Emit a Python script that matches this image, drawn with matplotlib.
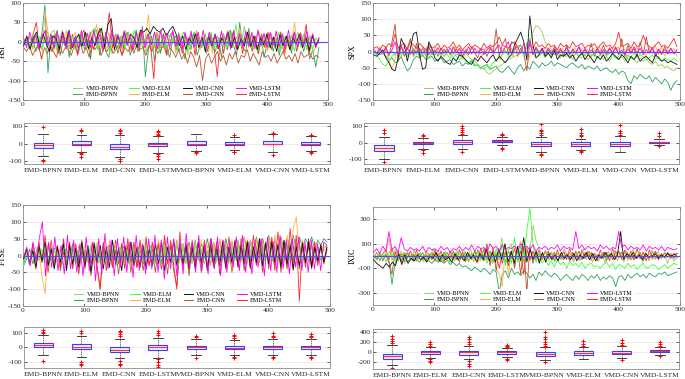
import matplotlib
matplotlib.use('Agg')
import matplotlib.pyplot as plt
import numpy as np

plt.rcParams['font.family'] = ['Liberation Serif', 'DejaVu Serif']
plt.rcParams['axes.unicode_minus'] = False

# ---------------- data ----------------
series_names = ['VMD-BPNN', 'VMD-ELM', 'VMD-CNN', 'VMD-LSTM',
                'EMD-BPNN', 'EMD-ELM', 'EMD-CNN', 'EMD-LSTM']
series_colors = ['#9acd5a', '#3cff3c', '#111111', '#ff00ff',
                 '#2ca25f', '#ffb040', '#b5542a', '#ff2a2a']
box_labels = ['EMD-BPNN', 'EMD-ELM', 'EMD-CNN', 'EMD-LSTM',
              'VMD-BPNN', 'VMD-ELM', 'VMD-CNN', 'VMD-LSTM']

# ---- HSI ----
hsi_vmd_bpnn = [5,-8,12,-15,20,-5,-18,10,25,-12,15,-20,8,30,-10,-22,12,5,-15,18,-8,22,-25,10,15,-12,28,-5,-18,20,8,-10,15,-20,30,-8,12,-15,25,-10,18,-28,10,5,-15,22,-12,8,-20,15,10,-18,25,-5,12,-22,18,-8,30,-12,5,20,-25,10,-8,15,-18,22,-10,28,-15,5,20,-12,40,-8,15,-20,10,25,-15,8,-18,22,-5,12,-25,18,-10,15,-20,8,25,-15,10,-22,18,-30,-12,5]
hsi_vmd_elm = [-8,10,-15,20,-5,15,-22,12,-10,25,30,-18,8,20,-12,15,-8,-22,18,-5,12,-15,25,35,-20,10,-5,15,-28,8,20,-12,15,-18,25,-8,30,-20,12,-10,15,22,-10,18,-25,12,-15,20,-5,15,-22,10,25,-12,-20,18,-8,12,-15,22,-10,25,-18,12,-5,15,-20,30,-15,45,-10,20,-8,12,-18,15,-25,10,-12,20,-15,8,-10,25,-20,15,-12,18,-25,10,-8,20,-15,12,-20,10,-5]
hsi_vmd_cnn = [-10,15,-20,10,25,-15,20,-5,-25,15,10,-20,25,-10,30,-15,5,20,-12,25,-18,10,-10,20,35,-15,45,60,-20,15,-10,25,-5,20,10,-15,30,25,35,20,40,30,25,35,15,30,40,20,-10,15,-20,10,-5,20,-15,12,-25,15,-10,20,-18,10,-5,25,-15,12,-20,8,-10,25,-12,15,-20,10,-8,20,-15,12,-25,18,-10,15,-20,10,-5,20,-15,12,-22,15,-10,5]
hsi_vmd_lstm = [10,-15,25,-5,18,-20,12,28,-10,20,-15,30,-8,22,-18,25,-12,15,-20,28,-10,22,-15,30,-5,20,-18,25,-12,32,-8,20,-15,28,-10,18,-22,25,-12,30,-15,20,-8,25,-18,28,-10,22,-15,30,-12,20,-20,25,-8,28,-15,22,-10,30,-18,25,-12,20,-15,28,-8,25,-20,30,-10,22,-15,28,-12,25,-18,30,-10,22,-15,25,-8,28,-12,20,-18,30,-10,25,-15,22,-12,28,-8,20,-15,10]
hsi_emd_bpnn = [-10,5,-15,10,-25,-5,20,95,-80,15,-20,25,-35,5,10,-40,20,-15,-30,15,-20,5,-45,25,30,-35,10,-25,-40,20,5,-30,15,-20,25,-35,-10,30,-25,40,-90,-20,15,-50,10,-30,20,-15,-40,5,15,-25,-5,-45,10,-20,25,-35,-10,5,-30,20,-15,-25,10,-40,15,-20,30,-10,-35,50,-15,-25,35,-20,10,-30,15,-40,-5,20,-25,10,-35,15,-20,5,-30,25,-15,10,-25,5,-45,-20,-65,-15]
hsi_emd_elm = [5,-10,15,-20,10,-15,-45,80,25,-10,20,-25,15,-5,30,-20,10,25,-15,30,-10,20,-25,15,45,-15,20,-10,25,-30,12,-20,15,-8,20,-25,15,-12,25,-15,10,70,-20,25,-10,30,-15,20,-12,25,-30,15,-10,20,-35,18,-12,25,-20,15,-8,22,-30,15,-18,25,-10,30,-15,20,-12,35,-20,25,-15,18,-10,30,-12,20,-25,15,-10,25,-18,20,-30,15,-12,50,-20,25,-10,15,-25,20,-15,10]
hsi_emd_cnn = [-15,-25,-10,-35,-20,-5,-45,-15,-30,-10,-25,-40,-5,-30,-15,-20,-35,-10,-25,-5,-30,-15,-40,-10,-20,-5,-35,-15,-25,-10,-30,-20,-5,-35,-15,-25,-10,-30,-5,-20,-15,-35,-10,-25,-5,-30,-20,-10,-35,-15,-25,-40,-20,-45,-30,-55,-25,-40,-65,-35,-100,-45,-30,-55,-40,-25,-50,-35,-60,-30,-45,-25,-55,-35,-40,-20,-50,-30,-45,-60,-25,-40,-35,-50,-30,-55,-40,-25,-45,-35,-50,-30,-55,-25,-40,-35,-30,-45,-35,-40]
hsi_emd_lstm = [-5,10,-15,20,50,-20,15,30,-10,-25,20,-30,15,-10,25,-20,10,-35,15,30,-15,25,-20,10,35,-25,15,75,-15,20,-10,-35,15,25,-20,10,-25,30,-15,20,-10,-95,25,-15,20,-30,15,25,-20,10,-30,15,-10,20,-35,25,-15,10,-25,20,-15,-90,15,-30,20,-10,25,-20,15,-30,10,20,-25,15,-30,20,-15,25,-20,10,-15,25,-30,15,-20,20,-25,15,-10,45,-30,20,-15,10]

# ---- SPX ----
spx_vmd_bpnn = [0,-5,3,-8,5,-10,2,-12,8,-5,0,-10,5,-15,2,-8,10,-12,5,-5,0,-10,-5,-15,3,-10,-18,-8,-12,-20,-5,-15,-25,-30,-40,-55,-50,-65,-70,-60,-55,-45,-40,-30,-25,-20,-15,-10,-5,0,10,30,60,80,75,60,30,-5,-15,-5,-10,-20,-5,-15,-10,-25,-5,-15,-20,-10,-25,-15,-5,-20,-10,-25,-15,-30,-10,-20,-25,-15,-30,-10,-20,-25,-35,-20,-30,-25,-35,-40,-30,-45,-40,-50,-45,-55,-60,-50]
spx_vmd_elm = [0,-10,-25,-40,-45,-30,-15,-5,5,-10,0,-15,-5,10,-10,5,-15,0,-20,-5,-10,0,-15,5,-10,-20,-5,-15,-25,-20,-30,-35,-25,-40,-45,-50,-55,-45,-50,-35,-25,-20,-10,5,-15,10,-5,5,20,-15,25,40,-10,5,-15,0,-20,-5,5,-10,0,-15,-5,5,-20,-10,0,-15,-5,-10,0,-15,-5,-20,-10,5,-15,-5,-10,-20,-15,-5,-10,-25,-15,-5,-20,-10,-15,-25,-20,-10,-25,-15,-30,-20,-25,-30,-20,-30]
spx_vmd_cnn = [-10,-15,-5,5,-20,-35,-55,-60,-20,40,20,-30,10,55,60,-10,-55,-50,30,10,-20,-30,-15,-25,-35,-40,-20,-30,-10,-15,-25,-35,-40,-20,-30,-15,-25,-35,-20,-10,-30,-15,-25,-35,-20,-10,20,40,60,30,-25,110,20,-20,-10,10,-15,-5,-20,5,-25,-10,-15,-5,-20,-10,-30,-15,-5,-25,-10,-20,-35,-15,-25,-10,-30,-20,-5,-15,-25,-10,-20,-35,-15,-25,-10,-30,-20,-15,-25,-35,-10,-20,-30,-25,-35,-30,-35,-40]
spx_vmd_lstm = [5,-5,8,-3,10,-8,5,30,-10,15,-5,12,-8,5,-3,10,-6,8,-10,5,-5,12,-8,6,-4,10,-5,8,-10,6,-5,15,-8,10,-5,8,-10,5,15,-5,10,20,-5,15,30,-10,8,15,-5,25,-10,35,-8,10,-5,8,-6,10,-5,8,-10,6,-4,12,-8,5,-5,15,-6,10,-8,5,-5,8,-10,6,-5,12,-4,10,-8,5,-10,8,-6,15,-5,10,-8,6,-5,12,-10,8,-5,6,-8,10,-6,5]
spx_emd_bpnn = [0,-5,-10,-5,-15,-25,-20,-35,-30,-15,-40,-60,-50,-25,-15,-20,-10,-25,-20,-15,-30,-25,-20,-35,-30,-25,-40,-35,-30,-45,-35,-40,-30,-45,-40,-50,-45,-40,-55,-50,-45,-60,-65,-55,-45,-60,-70,-50,-40,-60,-45,-55,-30,-40,-50,-35,-45,-40,-30,-45,-35,-40,-45,-50,-40,-35,-45,-50,-40,-55,-45,-50,-55,-45,-60,-55,-50,-60,-65,-55,-70,-60,-65,-90,-100,-75,-85,-70,-80,-85,-75,-95,-80,-90,-100,-85,-95,-120,-100,-90]
spx_emd_elm = [10,-5,15,-10,5,-30,-55,-20,15,-15,20,-10,5,-15,10,-5,15,-20,10,-8,15,-5,10,-15,5,-10,15,-5,12,-20,8,-5,15,-10,5,-15,10,-5,15,-8,20,-25,10,-5,15,-15,20,-10,5,-25,-30,10,-15,5,-10,12,-5,15,-10,8,-5,10,-15,5,-8,12,-5,10,-15,8,-20,10,-5,15,-10,5,-8,12,-5,15,-10,8,-20,10,-5,15,-10,5,-15,10,-5,20,-10,15,-15,5,-8,10,-15]
spx_emd_cnn = [5,-10,8,-5,15,-15,30,85,-30,20,-15,10,40,-10,25,-20,10,-5,15,-10,5,-15,10,-5,8,-10,15,-5,10,-15,5,-10,15,-5,-20,10,5,-15,10,-5,70,-15,20,40,-10,30,25,-15,10,-5,-60,30,-10,15,-5,10,-15,5,-10,15,-5,10,-15,20,-10,8,-5,15,-10,5,-8,25,-15,10,-5,20,-10,8,-5,15,-10,40,-15,20,-5,10,-15,30,-10,45,-5,10,-15,5,-10,15,-5,10,-8,5]
spx_emd_lstm = [10,15,5,20,12,25,15,55,10,20,25,5,30,20,10,25,15,5,20,10,15,25,5,20,10,15,30,10,20,5,15,25,10,20,15,5,25,10,20,15,25,45,20,15,10,25,30,15,20,-10,25,20,10,30,15,20,10,25,15,20,5,25,15,20,10,30,15,20,25,10,20,15,25,10,20,30,15,20,10,25,60,15,20,25,10,30,15,20,50,25,15,10,20,30,15,20,10,25,40,15]

# ---- FTSE ----
ftse_vmd_bpnn = [-20,10,-30,15,25,-15,20,-25,30,-10,15,-20,25,-30,10,-15,20,-25,30,-10,15,-20,25,-15,30,-25,10,-20,25,-10,35,-15,20,-25,15,-30,20,-10,25,-20,30,-15,10,-25,20,-30,25,-10,15,-20,30,-15,25,-25,10,-20,30,-15,20,-25,15,-30,25,-10,20,-15,35,-20,25,-10,30,-15,20,-25,35,-10,25,-20,30,-15,40,-20,25,-10,30,-15,35,-20,25,-10,30,-15,25,-20,35,-10,20,-15,30,25]
ftse_vmd_elm = [-30,5,-20,15,-25,30,-10,20,-15,25,-30,10,-20,30,-15,20,-25,15,-10,30,-20,25,-15,35,-25,10,-20,30,-15,20,-30,25,-10,20,-25,30,-15,15,-20,25,-10,30,-25,20,-15,35,-10,25,-20,15,-30,30,-15,20,-25,25,-10,30,-20,15,-15,35,-25,20,-10,30,-20,25,-15,30,-10,40,-20,25,-15,35,-10,30,-20,45,-15,30,-10,40,-20,35,-15,30,-10,45,-20,30,-15,25,-10,35,-15,20,30]
ftse_vmd_cnn = [-10,20,-25,15,-35,30,-15,40,-30,20,-40,25,-20,35,-45,30,-25,20,-35,40,-30,25,-50,35,-20,30,-40,25,-35,45,-25,20,-45,30,-20,40,-30,25,-35,30,-40,20,-30,35,-25,40,-45,25,-20,45,-30,35,-25,30,-40,25,-35,40,-20,30,-45,35,-25,20,-30,40,-35,25,-20,45,-30,30,-25,40,-35,25,-20,50,-30,35,-25,40,-20,30,-35,45,-25,30,-40,25,-30,35,-20,40,-35,25,-15,30,-20,25]
ftse_vmd_lstm = [-5,25,-30,40,-20,50,100,-60,40,-35,55,-45,30,-55,60,-40,45,-50,35,-60,55,-45,40,-75,50,-55,65,-40,45,-60,50,-35,55,-50,40,-65,60,-45,35,-55,50,-40,60,-50,45,-70,55,-40,50,-60,45,-55,65,-35,40,-50,60,-45,35,-55,50,-40,55,-60,45,-50,40,-35,55,-45,60,-50,40,-55,45,-35,50,-60,55,-45,40,-50,60,-40,45,-55,50,-35,55,-45,40,-50,45,-40,35,-45,40,30]
ftse_emd_bpnn = [-30,-10,20,-25,10,15,-20,5,30,-15,20,25,-30,10,20,-10,35,-25,15,20,-15,30,-20,10,25,-20,35,-15,25,-10,35,-20,15,30,-10,40,-20,10,35,-15,40,-10,30,-5,35,-20,40,-15,30,-5,45,-10,35,0,40,-5,45,-10,35,5,50,-5,40,0,45,-10,50,5,40,-5,45,0,55,10,45,20,55,5,50,15,60,20,45,25,55,15,50,30,60,20,55,25,50,30,55,20,45,30,50,40]
ftse_emd_elm = [-20,15,-25,30,-30,10,-60,-115,25,20,-15,30,-25,20,-10,35,-30,25,-40,15,30,-20,35,-25,40,-15,20,-30,45,-20,30,-25,35,-15,40,-20,30,-35,45,-25,40,-15,30,-20,45,-10,35,-25,40,-30,45,-15,35,-20,30,-25,40,-15,45,-10,30,-25,40,-20,50,-10,35,-25,45,-15,40,-20,55,-10,45,-15,50,-20,40,-10,55,-15,60,-25,50,-10,60,-20,80,115,-10,45,-20,35,-15,40,-20,30,15,20]
ftse_emd_cnn = [-20,10,-30,15,-40,25,-20,10,-50,20,-35,15,-45,10,-30,25,-40,20,-55,15,-35,25,-60,20,-40,-100,30,-45,20,-35,15,-55,25,-40,30,-50,20,-35,25,-45,15,-30,20,-50,25,-40,15,-55,30,-45,-90,20,-35,25,-60,30,-40,15,-50,20,-45,25,-35,30,-55,20,-40,25,-50,15,-35,30,-45,25,-40,20,-30,35,-50,40,-40,30,-45,35,-50,25,-40,30,-45,35,-40,25,-35,30,-40,20,-30,25,-20,15]
ftse_emd_lstm = [-10,20,-25,35,-15,40,-20,60,-30,45,-25,30,-35,50,-20,40,-30,35,-25,45,-40,30,-25,40,-30,-100,40,-20,30,-35,45,-25,35,-30,50,-20,40,-35,45,-25,55,-30,40,-20,35,-40,60,-25,45,-30,-100,70,-30,40,-25,45,-20,35,-30,45,-35,50,-25,40,-20,45,-30,55,-25,40,-35,50,-25,45,-30,60,-25,50,-30,40,-20,55,-30,70,-25,45,-30,80,-20,60,-135,40,-25,50,-30,40,-20,35,-25,20]

# ---- IXIC ----
ixic_vmd_bpnn = [-20,30,-40,20,-50,40,-30,60,-40,20,-60,30,-20,50,-40,30,-50,40,-20,60,-30,20,-50,40,-60,30,-40,50,-20,40,-30,60,-50,20,-40,50,-30,40,-60,30,-20,150,-50,40,100,-60,30,80,-40,60,50,250,120,60,-20,50,-40,30,-50,40,-30,60,-20,40,-50,30,-40,60,-30,40,-50,20,-40,30,-60,40,-20,50,-40,30,-50,40,-30,60,-20,40,-50,30,-40,50,-30,40,-20,30,-60,20,-40,-20]
ixic_vmd_elm = [0,-20,20,-30,30,-10,20,-40,10,-30,30,-20,10,-40,20,-10,30,-30,10,-20,20,-40,10,-30,30,-50,20,-10,40,-30,20,-50,30,-20,40,-30,10,-60,20,-40,60,-30,100,-80,50,-60,150,-50,80,-40,200,390,100,-50,20,-60,-20,-80,-40,-90,-30,-70,-50,-100,-40,-80,-60,-90,-50,-100,-70,-60,-90,-80,-100,-70,-50,-90,-60,-110,-70,-80,-100,-60,-90,-70,-110,-80,-60,-100,-90,-70,-80,-110,-90,-70,-100,-80,-60,-70]
ixic_vmd_cnn = [-30,-60,-80,-100,-60,-90,-50,-80,20,-70,10,-60,-20,-40,10,-30,-10,-50,0,-20,30,-40,10,-30,-10,-50,20,-30,0,-40,30,-20,10,-50,20,-30,60,-40,30,-50,60,-30,100,-50,40,-60,80,-40,150,-50,60,-30,40,-60,30,-50,20,-30,10,-40,30,-20,10,-30,20,-40,10,-20,30,-30,20,-40,10,-20,30,-10,20,-30,10,200,-30,20,-10,30,-20,10,-30,20,-10,0,20,-20,10,-10,20,0,10,20]
ixic_vmd_lstm = [30,60,20,80,40,200,50,80,30,150,60,40,70,50,60,40,80,30,70,50,60,40,80,50,70,30,60,50,80,40,70,50,90,40,80,60,70,30,100,60,80,40,90,50,70,60,80,40,100,60,80,50,90,40,70,60,80,50,70,60,90,40,80,60,70,50,200,60,90,50,80,60,70,40,90,60,80,50,70,60,200,70,90,50,80,60,70,50,90,40,80,60,70,50,80,40,70,60,50,60]
ixic_emd_bpnn = [0,-20,10,-30,0,-40,-230,-60,0,-30,10,-50,-20,-40,-30,-50,-20,-30,-40,-60,-30,-50,-40,-60,-30,-70,-50,-80,-60,-90,-80,-100,-120,-90,-110,-130,-100,-120,-150,-110,-130,-300,-150,-120,-180,-100,-150,-130,-160,-120,-140,-180,-150,-200,-130,-160,-120,-150,-170,-140,-160,-200,-170,-150,-180,-200,-160,-190,-150,-170,-200,-160,-180,-150,-200,-170,-190,-160,-180,-250,-170,-160,-200,-150,-180,-160,-140,-170,-150,-180,-140,-160,-170,-140,-150,-130,-160,-150,-140,-130]
ixic_emd_elm = [10,-20,30,-10,20,150,-40,20,-30,40,-20,30,-10,20,-30,10,-20,30,-40,20,-30,50,-20,30,-40,20,-30,40,-20,30,-50,20,-30,40,-60,30,-40,50,-60,80,-100,-150,-250,80,-150,40,-80,60,120,-60,80,-40,30,-40,20,-30,40,-20,30,-40,20,-30,40,-20,30,-40,20,-30,40,-20,30,-40,20,-30,10,-20,30,-10,20,-30,40,-20,30,-40,20,-30,10,-20,30,-10,20,-30,40,-20,10,-20,30,-10,20,-10]
ixic_emd_cnn = [0,-30,20,-40,10,-50,-150,40,-40,20,-50,30,-20,10,-40,20,-30,10,-20,30,-40,20,-50,30,-20,40,-30,20,-50,30,-40,20,-30,40,-20,60,-40,100,-80,60,-120,50,-60,30,-80,40,-100,60,-150,80,-300,80,-60,30,-40,20,-30,40,-20,30,-40,10,-30,20,-40,30,-20,40,-30,20,-10,30,-20,10,-20,30,-40,20,-30,40,-20,30,-10,20,-30,10,-20,30,-40,20,-30,40,-20,10,-20,30,-10,20,-20,10]
ixic_emd_lstm = [-20,30,-40,20,50,-30,60,-20,40,-50,30,-20,40,-30,50,-10,30,-40,20,-30,50,-20,40,-50,30,-20,40,-30,50,-10,30,-40,20,-30,50,-20,60,-30,40,-50,20,-100,30,-50,40,-20,60,-30,40,-150,60,-30,40,-20,50,-30,40,-20,30,-40,50,-20,40,-30,60,-20,40,-30,50,-20,40,-30,20,-40,50,-20,30,-40,60,-20,40,-30,50,-20,40,-30,60,-20,30,-40,50,-20,40,-30,20,-10,30,-20,20,-10]

# ---- box statistics (order = box_labels) ----
hsi_med = [-10, 0, -20, -5, 0, 0, 0, 0]
hsi_q1 = [-25, -10, -30, -15, -10, -10, -5, -10]
hsi_q3 = [5, 15, 0, 5, 15, 10, 15, 10]
hsi_wlo = [-70, -50, -75, -55, -40, -35, -45, -40]
hsi_whi = [55, 50, 50, 40, 55, 35, 55, 40]
hsi_fliers = [[90, -90, -100], [70, 75, -55, -60, -75], [60, 70, 75, -85, -100], [45, 55, 62, 70, -60, -70, -85],
              [-50, -55], [45, -45, -50], [55, 60, -65], [45, 50, -50, -55]]

spx_med = [-30, -3, 3, 10, -10, -8, -8, 3]
spx_q1 = [-50, -10, -5, 5, -20, -18, -20, -3]
spx_q3 = [-15, 8, 15, 18, 3, 5, 8, 8]
spx_wlo = [-100, -35, -40, -15, -55, -45, -55, -15]
spx_whi = [35, 30, 45, 35, 35, 25, 40, 22]
spx_fliers = [[60, 75, -115], [40, 45, -45, -60], [55, 65, 80, 90, 100, -55], [45, 50, 55, -30, -40],
              [50, 60, 70, 80, 115, -65, -75], [40, 50, 60, 85, -50, -55], [50, 60, 70, 110], [40, 60, -20]]

ftse_med = [15, 5, -15, 0, 0, -2, 0, 0]
ftse_q1 = [0, -10, -30, -15, -8, -12, -12, -10]
ftse_q3 = [30, 25, 5, 15, 12, 10, 12, 12]
ftse_wlo = [-55, -65, -75, -70, -50, -55, -55, -50]
ftse_whi = [85, 80, 55, 65, 60, 50, 55, 55]
ftse_fliers = [[95, 105, 120, -90], [95, 110, -100, -110, -120], [75, 90, 105, 110, -95, -110, -120],
               [85, 100, 110, -80, -100, -120, -135], [70, 80, -75], [65, 75, 85, -65, -75],
               [70, 80, 100, -65, -70], [70, 80, 90, -65, -70]]

ixic_med = [-80, -5, -5, -5, -40, -20, -10, 25]
ixic_q1 = [-130, -30, -50, -30, -70, -50, -45, 5]
ixic_q3 = [-30, 15, 30, 15, 0, 15, 30, 45]
ixic_wlo = [-260, -110, -140, -100, -160, -130, -120, -50]
ixic_whi = [140, 90, 120, 75, 90, 90, 120, 100]
ixic_fliers = [[170, 220, 260, 310, -310], [120, 160, 200, -130, -170, -200], [150, 200, 250, 290, -180, -230, -280],
               [100, 120, 140, -130, -160], [110, 150, 200, 250, 300, 390, -200], [120, 160, 210],
               [140, 180, 240, -150], [120, 150, 190, -70]]

# ---------------- layout / styling ----------------
W, H = 685, 379
fig = plt.figure(figsize=(W / 100, H / 100), dpi=100)

def ax_px(x0, y0, x1, y1):
    return fig.add_axes([x0 / W, 1 - y1 / H, (x1 - x0) / W, (y1 - y0) / H])

frame_col = '#8c8c8c'
tick_fs = 5.3
lab_fs = 5.8

def style(ax):
    for s in ax.spines.values():
        s.set_color(frame_col)
        s.set_linewidth(0.6)
    ax.tick_params(direction='in', length=2, width=0.5, colors='#262626', labelsize=tick_fs, pad=1.5,
                   right=True, top=True)
    ax.grid(axis='y', color='#e6e6e6', linewidth=0.5)
    ax.set_axisbelow(True)

panels = [
    dict(name='HSI', data=[hsi_vmd_bpnn, hsi_vmd_elm, hsi_vmd_cnn, hsi_vmd_lstm, hsi_emd_bpnn, hsi_emd_elm, hsi_emd_cnn, hsi_emd_lstm],
         end=485, ylim=(-150, 100), yticks=[-150, -100, -50, 0, 50, 100],
         line_box=(23, 3, 328, 100), box_box=(24, 123, 330, 164),
         box=(hsi_med, hsi_q1, hsi_q3, hsi_wlo, hsi_whi, hsi_fliers), bylim=(-115, 115), byticks=[-100, 0, 100]),
    dict(name='SPX', data=[spx_vmd_bpnn, spx_vmd_elm, spx_vmd_cnn, spx_vmd_lstm, spx_emd_bpnn, spx_emd_elm, spx_emd_cnn, spx_emd_lstm],
         end=495, ylim=(-150, 150), yticks=[-150, -100, -50, 0, 50, 100, 150],
         line_box=(373, 3, 680, 100), box_box=(364, 123, 679, 164),
         box=(spx_med, spx_q1, spx_q3, spx_wlo, spx_whi, spx_fliers), bylim=(-128, 120), byticks=[-100, 0, 100]),
    dict(name='FTSE', data=[ftse_vmd_bpnn, ftse_vmd_elm, ftse_vmd_cnn, ftse_vmd_lstm, ftse_emd_bpnn, ftse_emd_elm, ftse_emd_cnn, ftse_emd_lstm],
         end=495, ylim=(-150, 150), yticks=[-150, -100, -50, 0, 50, 100, 150],
         line_box=(23, 205, 330, 306), box_box=(24, 327, 330, 368),
         box=(ftse_med, ftse_q1, ftse_q3, ftse_wlo, ftse_whi, ftse_fliers), bylim=(-140, 138), byticks=[-100, 0, 100]),
    dict(name='IXIC', data=[ixic_vmd_bpnn, ixic_vmd_elm, ixic_vmd_cnn, ixic_vmd_lstm, ixic_emd_bpnn, ixic_emd_elm, ixic_emd_cnn, ixic_emd_lstm],
         end=495, ylim=(-400, 400), yticks=[-300, -100, 100, 300],
         line_box=(373, 207, 680, 305), box_box=(373, 329, 679, 369),
         box=(ixic_med, ixic_q1, ixic_q3, ixic_wlo, ixic_whi, ixic_fliers), bylim=(-330, 450), byticks=[-200, 0, 200, 400]),
]

# EMD series drawn first, VMD series on top
draw_z = [3, 3, 3, 3, 2, 2, 2, 2]

for p in panels:
    ax = ax_px(*p['line_box'])
    style(ax)
    handles = []
    for vals, nm, c, z in zip(p['data'], series_names, series_colors, draw_z):
        x = np.linspace(1, p['end'], len(vals))
        h, = ax.plot(x, vals, color=c, lw=0.6, label=nm, zorder=z)
        handles.append(h)
    ax.axhline(0, color='#4b4bff', lw=0.8, zorder=3.5)
    ax.set_xlim(0, 500)
    ax.set_xticks([0, 100, 200, 300, 400, 500])
    ax.set_ylim(*p['ylim'])
    ax.set_yticks(p['yticks'])
    ax.set_ylabel(p['name'], fontsize=lab_fs, labelpad=0.5)
    order = [0, 4, 1, 5, 2, 6, 3, 7]
    leg = ax.legend([handles[i] for i in order], [series_names[i] for i in order],
                    loc='lower center', ncol=4, frameon=True, fontsize=4.4,
                    handlelength=1.6, handletextpad=0.5, columnspacing=1.8,
                    labelspacing=0.15, borderaxespad=0.3, borderpad=0.2,
                    bbox_to_anchor=(0.505, 0.0))
    leg.set_zorder(5)
    leg.get_frame().set_facecolor('white')
    leg.get_frame().set_edgecolor('none')
    leg.get_frame().set_alpha(1.0)
    for lh in leg.get_lines():
        lh.set_linewidth(0.7)

    bx = ax_px(*p['box_box'])
    style(bx)
    med, q1, q3, wlo, whi, fl = p['box']
    stats = [dict(med=med[i], q1=q1[i], q3=q3[i], whislo=wlo[i], whishi=whi[i],
                  fliers=fl[i], label=box_labels[i]) for i in range(8)]
    bx.bxp(stats, positions=range(1, 9), widths=0.5, showfliers=True, patch_artist=True,
           boxprops=dict(edgecolor='#3c3cff', facecolor='#ececff', linewidth=0.8),
           medianprops=dict(color='#ff3030', linewidth=0.8),
           whiskerprops=dict(color='#444444', linewidth=0.5, linestyle=(0, (2, 1))),
           capprops=dict(color='#222222', linewidth=0.6),
           flierprops=dict(marker='+', markeredgecolor='#ff0000', markersize=3, markeredgewidth=0.7))
    bx.set_xlim(0.5, 8.5)
    bx.set_ylim(*p['bylim'])
    bx.set_yticks(p['byticks'])
    bx.tick_params(axis='x', length=0, labelsize=5.4, pad=3, top=False)

fig.savefig('out.png', dpi=100)
